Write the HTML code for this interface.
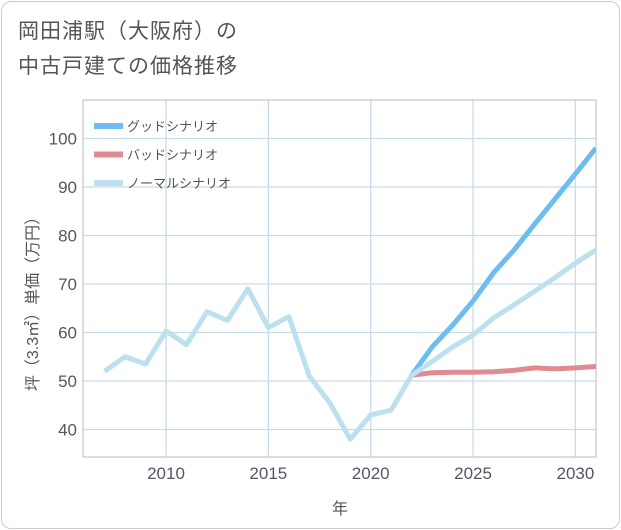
<!DOCTYPE html>
<html><head><meta charset="utf-8"><style>
body{margin:0;background:#fff;font-family:"Liberation Sans","Noto Sans CJK JP",sans-serif;}
#card{position:absolute;left:1px;top:1px;width:617px;height:526px;border:1px solid #ccc;border-radius:10px;background:#fff;}
#title{position:absolute;left:18px;top:14px;font-size:21px;line-height:35px;color:#555;letter-spacing:1px;}
</style></head><body>
<div id="card"></div>
<div id="title">岡田浦駅（大阪府）の<br>中古戸建ての価格推移</div>
<svg id="chart" width="621" height="530" style="position:absolute;left:0;top:0"></svg>
<script>
const years=[2007,2008,2009,2010,2011,2012,2013,2014,2015,2016,2017,2018,2019,2020,2021,2022];
const history=[52,55,53.5,60.3,57.5,64.3,62.5,69,61,63.3,51,45.5,38,43,44,51.2];
const futureYears=[2022,2023,2024,2025,2026,2027,2028,2029,2030,2031];
const good=[51.2,57,61.5,66.5,72.3,77,82.3,87.5,92.7,98];
const bad=[51.2,51.7,51.8,51.8,51.9,52.2,52.7,52.5,52.7,53];
const normal=[51.2,54,57,59.5,63,65.7,68.5,71.3,74.3,77];
const xTicks=[2010,2015,2020,2025,2030];
const yTicks=[40,50,60,70,80,90,100];
const L=83,R=596,T=100,B=457;
const X=y=>166+(y-2010)*20.47;
const Y=v=>381-(v-50)*4.85;
const svg=document.getElementById('chart');
const NS='http://www.w3.org/2000/svg';
function mk(tag,attrs){const e=document.createElementNS(NS,tag);for(const k in attrs)e.setAttribute(k,attrs[k]);svg.appendChild(e);return e;}
xTicks.forEach(t=>{const l=mk('line',{x1:X(t),x2:X(t),y1:T,y2:B,stroke:'#c9dbe8','stroke-width':1.3});


const tx=mk('text',{x:X(t),y:479,'text-anchor':'middle','font-size':17,fill:'#556'});tx.textContent=t;

});
yTicks.forEach(t=>{const l=mk('line',{x1:L,x2:R,y1:Y(t),y2:Y(t),stroke:'#c9dbe8','stroke-width':1.3});


const tx=mk('text',{x:77,y:Y(t)+6,'text-anchor':'end','font-size':17,fill:'#556'});tx.textContent=t;

});
const fr=mk('rect',{x:L,y:T,width:R-L,height:B-T,fill:'none',stroke:'#bbb','stroke-width':1});


const defs=mk('clipPath',{id:'clip'});const cr=document.createElementNS(NS,'rect');cr.setAttribute('x',L);cr.setAttribute('y',T);cr.setAttribute('width',R-L);cr.setAttribute('height',B-T);defs.appendChild(cr);
function line(xs,vs,color,name){const p=mk('polyline',{points:xs.map((x,i)=>X(x)+','+Y(vs[i])).join(' '),fill:'none',stroke:color,'stroke-width':5,'stroke-linejoin':'round','clip-path':'url(#clip)'});

}
line(futureYears,good,'#6dbdf0','good-scenario-line');
line(futureYears,bad,'#e08a92','bad-scenario-line');
line(futureYears,normal,'#bde0ee','normal-scenario-line');
line(years,history,'#bde0ee','history-line');
const leg=[['グッドシナリオ','#6dbdf0'],['バッドシナリオ','#e08a92'],['ノーマルシナリオ','#bde0ee']];
leg.forEach((d,i)=>{const yy=126+i*28.5;const l=mk('line',{x1:94,x2:123,y1:yy,y2:yy,stroke:d[1],'stroke-width':6});


const t=mk('text',{x:127,y:yy+5,'font-size':13,fill:'#555'});t.textContent=d[0];

});
const xt=mk('text',{x:340,y:514,'text-anchor':'middle','font-size':16,fill:'#555'});xt.textContent='年';


const yt=mk('text',{x:0,y:0,'text-anchor':'middle','font-size':16,fill:'#555',transform:'translate(38,300) rotate(-90)'});yt.textContent='坪（3.3㎡）単価（万円）';


</script>
</body></html>
